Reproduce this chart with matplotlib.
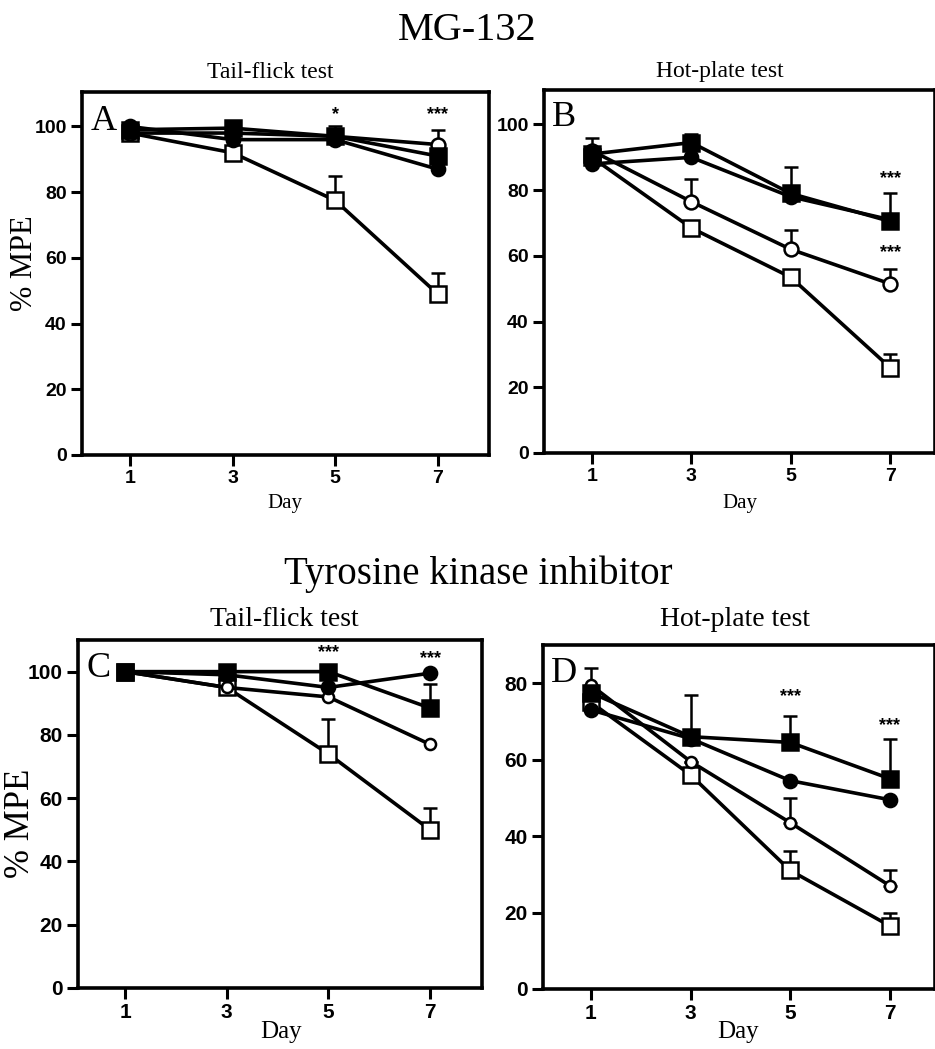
import matplotlib
matplotlib.use('Agg')
import matplotlib.pyplot as plt
import numpy as np

# 数据：天数与各组 %MPE
days = [1, 3, 5, 7]

# A: MG-132, tail-flick
a_open_sq = [98, 92, 77.5, 49]
a_open_sq_err = [0, 0, 7.5, 6.5]
a_open_ci = [98, 98, 97, 94.5]
a_open_ci_err = [0, 0, 3, 4.5]
a_fill_ci = [100, 96, 96, 87]
a_fill_ci_err = [0, 0, 0, 0]
a_fill_sq = [99, 99.5, 97, 91]
a_fill_sq_err = [0, 0, 0, 0]

# B: MG-132, hot-plate
b_open_sq = [90, 68.5, 53.5, 26]
b_open_sq_err = [0, 0, 0, 4]
b_open_ci = [92, 76.5, 62, 51.5]
b_open_ci_err = [4, 7, 6, 4.5]
b_fill_ci = [88, 90, 78, 71]
b_fill_ci_err = [0, 0, 0, 0]
b_fill_sq = [91, 94.5, 79, 70.5]
b_fill_sq_err = [0, 2.5, 8, 8.5]

# C: tyrosine kinase inhibitor, tail-flick
c_open_sq = [100, 95, 74, 50]
c_open_sq_err = [0, 0, 11, 7]
c_open_ci = [100, 95, 92, 77]
c_open_ci_err = [0, 0, 0, 0]
c_fill_ci = [100, 99, 95, 99.5]
c_fill_ci_err = [0, 0, 0, 0]
c_fill_sq = [100, 100, 100, 88.5]
c_fill_sq_err = [0, 0, 0, 7.5]

# D: tyrosine kinase inhibitor, hot-plate
d_open_sq = [75, 56, 31, 16.5]
d_open_sq_err = [0, 0, 5, 3.5]
d_open_ci = [79.5, 59.5, 43.5, 27]
d_open_ci_err = [4.5, 0, 6.5, 4]
d_fill_ci = [73, 65.5, 54.5, 49.5]
d_fill_ci_err = [0, 0, 0, 0]
d_fill_sq = [77.5, 66, 64.5, 55]
d_fill_sq_err = [0, 11, 7, 10.5]

# 显著性标记 (day, y, text)
a_stars = [(5, 103.5, '*'), (7, 103.5, '***')]
b_stars = [(7, 83.5, '***'), (7, 61, '***')]
c_stars = [(5, 106, '***'), (7, 104, '***')]
d_stars = [(5, 76.5, '***'), (7, 69, '***')]

serif = 'Liberation Serif'
sans = 'Liberation Sans'

fig = plt.figure(figsize=(9.35, 10.49), dpi=100)


def panel(rect, xlim, ymax, yticks, letter, letter_y, series, stars, tsize):
    ax = fig.add_axes(rect)
    for vals, err, mk, face, ms in series:
        if any(e > 0 for e in err):
            ax.errorbar(days, vals, yerr=[np.zeros(4), err], fmt='none',
                        ecolor='black', elinewidth=1.8, capsize=5,
                        capthick=1.8, zorder=2)
        ax.plot(days, vals, color='black', lw=2.6, marker=mk, ms=ms,
                mfc=face, mec='black', mew=1.8, zorder=3)
    for d, y, s in stars:
        ax.text(d, y, s, ha='center', va='center', fontsize=13,
                fontweight='bold', family=sans)
    ax.set_xlim(*xlim)
    ax.set_ylim(0, ymax)
    ax.set_xticks(days)
    ax.set_yticks(yticks)
    for sp in ax.spines.values():
        sp.set_linewidth(2.6)
    ax.tick_params(direction='out', length=8, width=2.2, labelsize=tsize,
                   pad=3)
    for lb in ax.get_xticklabels() + ax.get_yticklabels():
        lb.set_fontweight('bold')
        lb.set_family(sans)
    ax.text(0.02, letter_y, letter, transform=ax.transAxes, va='top',
            ha='left', fontsize=26, family=serif)
    return ax


def groups(osq, osq_e, oci, oci_e, fci, fci_e, fsq, fsq_e, small=False):
    ocs = 8 if small else 10
    return [(osq, osq_e, 's', 'white', 12),
            (oci, oci_e, 'o', 'white', ocs),
            (fci, fci_e, 'o', 'black', 9.5),
            (fsq, fsq_e, 's', 'black', 11)]


panel([0.0877, 0.5663, 0.4353, 0.346], (0.065, 8.0), 110.5,
      [0, 20, 40, 60, 80, 100], 'A', 0.965,
      groups(a_open_sq, a_open_sq_err, a_open_ci, a_open_ci_err,
             a_fill_ci, a_fill_ci_err, a_fill_sq, a_fill_sq_err),
      a_stars, 14)
panel([0.5818, 0.5682, 0.418, 0.346], (0.035, 7.9), 110.5,
      [0, 20, 40, 60, 80, 100], 'B', 0.97,
      groups(b_open_sq, b_open_sq_err, b_open_ci, b_open_ci_err,
             b_fill_ci, b_fill_ci_err, b_fill_sq, b_fill_sq_err),
      b_stars, 14)
panel([0.0834, 0.0582, 0.432, 0.3317], (0.075, 8.02), 110,
      [0, 20, 40, 60, 80, 100], 'C', 0.965,
      groups(c_open_sq, c_open_sq_err, c_open_ci, c_open_ci_err,
             c_fill_ci, c_fill_ci_err, c_fill_sq, c_fill_sq_err, True),
      c_stars, 15)
panel([0.5807, 0.0572, 0.419, 0.328], (0.037, 7.9), 90,
      [0, 20, 40, 60, 80], 'D', 0.965,
      groups(d_open_sq, d_open_sq_err, d_open_ci, d_open_ci_err,
             d_fill_ci, d_fill_ci_err, d_fill_sq, d_fill_sq_err, True),
      d_stars, 15)

# 标题与轴标签
fig.text(467 / 935, 1 - 30 / 1049, 'MG-132', ha='center', va='center',
         fontsize=29, family=serif)
fig.text(478 / 935, 1 - 574 / 1049, 'Tyrosine kinase inhibitor',
         ha='center', va='center', fontsize=28, family=serif)
fig.text(270 / 935, 1 - 72 / 1049, 'Tail-flick test', ha='center',
         va='center', fontsize=17, family=serif)
fig.text(720 / 935, 1 - 72 / 1049, 'Hot-plate test', ha='center',
         va='center', fontsize=17, family=serif)
fig.text(284 / 935, 1 - 619 / 1049, 'Tail-flick test', ha='center',
         va='center', fontsize=20, family=serif)
fig.text(735 / 935, 1 - 619 / 1049, 'Hot-plate test', ha='center',
         va='center', fontsize=20, family=serif)
for x, y, s in [(285, 503, 15), (740, 503, 15), (281, 1032, 18),
                (738, 1032, 18)]:
    fig.text(x / 935, 1 - y / 1049, 'Day', ha='center', va='center',
             fontsize=s, family=serif)
fig.text(25 / 935, 1 - 263 / 1049, '% MPE', ha='center', va='center',
         rotation=90, fontsize=22, family=serif)
fig.text(21 / 935, 1 - 823 / 1049, '% MPE', ha='center', va='center',
         rotation=90, fontsize=25, family=serif)

fig.savefig('out.png', dpi=100)
